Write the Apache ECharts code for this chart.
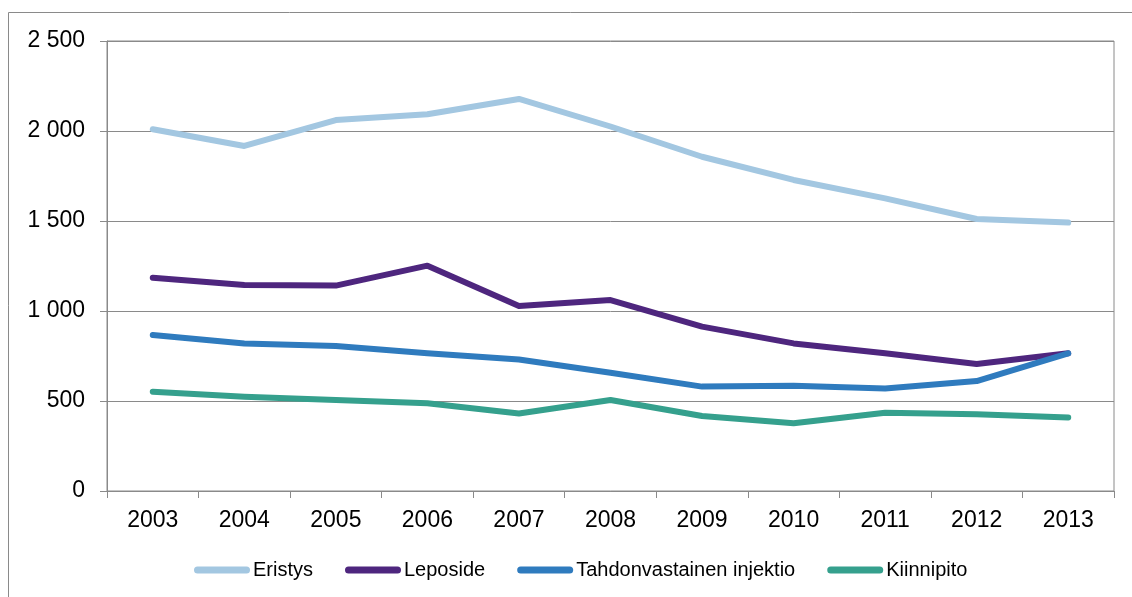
<!DOCTYPE html>
<html>
<head>
<meta charset="utf-8">
<title>Rajoitustoimenpiteet 2003-2013</title>
<script src="https://cdn.jsdelivr.net/npm/echarts@6/dist/echarts.min.js"></script>
<style>
  html, body {
    margin: 0;
    padding: 0;
    background: #ffffff;
  }
  #chart {
    width: 1132px;
    height: 597px;
  }
</style>
</head>
<body>
<div id="chart"></div>
<script>
// vuodet
const years = ['2003', '2004', '2005', '2006', '2007', '2008', '2009', '2010', '2011', '2012', '2013'];
const legendNames = ['Eristys', 'Leposide', 'Tahdonvastainen injektio', 'Kiinnipito'];

// arvot luettu kuvasta
const eristys = [2010, 1917, 2061, 2093, 2178, 2025, 1857, 1728, 1626, 1511, 1491];
const leposide = [1185, 1144, 1141, 1252, 1028, 1061, 913, 820, 765, 706, 765];
const injektio = [867, 820, 806, 765, 731, 657, 580, 585, 570, 611, 765];
const kiinnipito = [552, 524, 506, 487, 431, 506, 417, 376, 435, 426, 409];

const yTicks = [0, 500, 1000, 1500, 2000, 2500];

const colors = ['#A3C7E1', '#4E267E', '#2F7BBE', '#35A08D'];
const font = '"Liberation Sans", Arial, sans-serif';

// tuhaterotin välilyönnillä
function fmt(v) {
  if (v >= 1000) {
    return Math.floor(v / 1000) + ' ' + String(v % 1000).padStart(3, '0');
  }
  return String(v);
}

function lineSeries(name, data, color) {
  return {
    name: name,
    type: 'line',
    data: data,
    symbol: 'none', // ei pisteitä
    lineStyle: {
      color: color,
      width: 6,
      cap: 'round',
      join: 'round'
    },
    itemStyle: {
      color: color
    }
  };
}

const myChart = echarts.init(document.getElementById('chart'));
const option = {
  animation: false,
  backgroundColor: '#ffffff',
  textStyle: {
    fontFamily: font
  },
  graphic: [
    {
      // kaavion ulkoreunus
      type: 'rect',
      silent: true,
      shape: { x: 8.5, y: 12.5, width: 1200, height: 700 },
      style: { fill: 'none', stroke: '#8a8a8a', lineWidth: 1 }
    }
  ],
  grid: {
    left: 107,
    right: 18,
    top: 41,
    bottom: 106,
    show: true,
    borderColor: '#8a8a8a',
    borderWidth: 1
  },
  legend: {
    data: legendNames,
    left: 189,
    top: 555,
    orient: 'horizontal',
    itemWidth: 56,
    itemHeight: 7,
    itemGap: 32,
    icon: 'path://M3.5,0 H52.5 A3.5,3.5 0 0 1 52.5,7 H3.5 A3.5,3.5 0 0 1 3.5,0 Z',
    textStyle: {
      color: '#000000',
      fontSize: 20,
      fontFamily: font,
      padding: [0, 0, 0, -2]
    }
  },
  xAxis: {
    type: 'category',
    data: years,
    boundaryGap: true,
    axisLine: {
      lineStyle: { color: '#8a8a8a', width: 1 }
    },
    axisTick: {
      show: true,
      length: 7,
      lineStyle: { color: '#8a8a8a' }
    },
    axisLabel: {
      color: '#000000',
      fontSize: 23,
      fontFamily: font,
      margin: 18
    },
    splitLine: { show: false }
  },
  yAxis: {
    type: 'value',
    min: yTicks[0],
    max: yTicks[yTicks.length - 1],
    interval: 500,
    axisLine: {
      show: true,
      lineStyle: { color: '#8a8a8a', width: 1 }
    },
    axisTick: {
      show: true,
      length: 7,
      lineStyle: { color: '#8a8a8a' }
    },
    axisLabel: {
      color: '#000000',
      fontSize: 23,
      fontFamily: font,
      margin: 22,
      formatter: fmt
    },
    splitLine: {
      lineStyle: { color: '#8a8a8a', width: 1, type: 'solid' }
    }
  },
  series: [
    lineSeries(legendNames[0], eristys, colors[0]),
    lineSeries(legendNames[1], leposide, colors[1]),
    lineSeries(legendNames[2], injektio, colors[2]),
    lineSeries(legendNames[3], kiinnipito, colors[3])
  ]
};
myChart.setOption(option);
</script>
</body>
</html>
